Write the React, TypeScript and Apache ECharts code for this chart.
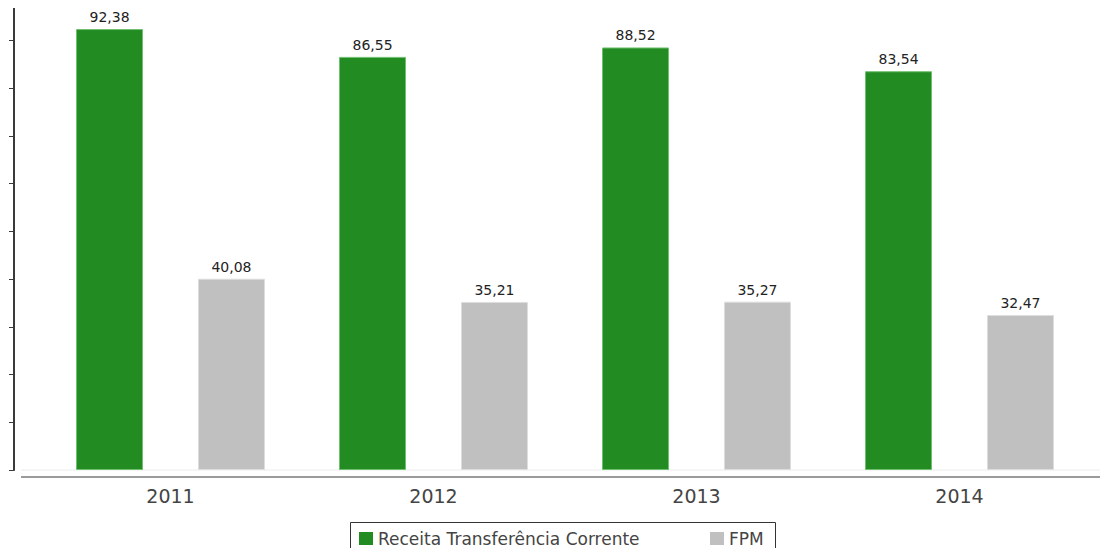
import React, { useEffect, useRef } from "react";
import * as echarts from "echarts";

const categories = ["2011", "2012", "2013", "2014"];
const receitaValues = [92.38, 86.55, 88.52, 83.54];
const fpmValues = [40.08, 35.21, 35.27, 32.47];
const seriesNames = ["Receita Transferência Corrente", "FPM"];

const FONT = "DejaVu Sans";

export default function App() {
  const ref = useRef<HTMLDivElement>(null);
  useEffect(() => {
    if (!ref.current) return;
    const chart = echarts.init(ref.current, undefined, { renderer: "svg" });
    const fmt = (p: any) => Number(p.value).toFixed(2).replace(".", ",");
    const legendCommon = {
      top: 522,
      icon: "rect",
      itemWidth: 14,
      itemHeight: 13,
      padding: [8, 0, 10, 0],
      itemStyle: { borderWidth: 0 },
      textStyle: { fontSize: 17, color: "#444", fontFamily: FONT },
    };
    chart.setOption({
      animation: false,
      backgroundColor: "#ffffff",
      grid: { left: 39, right: 17, top: 7, bottom: 86 },
      xAxis: {
        type: "category",
        data: categories,
        axisLine: { show: false },
        axisTick: { show: false },
        axisLabel: { margin: 16, fontSize: 19, color: "#444", fontFamily: FONT },
      },
      yAxis: {
        type: "value",
        min: 0,
        max: 97,
        interval: 10,
        offset: 25,
        axisLine: { show: true, lineStyle: { color: "#3a3a3a", width: 2 } },
        axisTick: { show: true, length: 5, lineStyle: { color: "#3a3a3a", width: 1 } },
        axisLabel: { show: false },
        splitLine: { show: false },
      },
      legend: [
        { ...legendCommon, left: 359, data: [seriesNames[0]] },
        { ...legendCommon, left: 710, data: [seriesNames[1]] },
      ],
      graphic: [
        { type: "line", shape: { x1: 21, y1: 470, x2: 1108, y2: 470 }, style: { stroke: "#ececec", lineWidth: 1 }, z: 1 },
        { type: "line", shape: { x1: 21, y1: 477, x2: 1108, y2: 477 }, style: { stroke: "#9a9a9a", lineWidth: 2 }, z: 1 },
        { type: "rect", shape: { x: 350.5, y: 522.5, width: 425, height: 40 }, style: { fill: "none", stroke: "#333", lineWidth: 1 }, z: 1 },
      ],
      series: [
        {
          name: seriesNames[0],
          type: "bar",
          data: receitaValues,
          barWidth: 67,
          barGap: "82%",
          itemStyle: { color: "#228B22", borderColor: "#6fbf6f", borderWidth: 1 },
          label: { show: true, position: "top", distance: 5, formatter: fmt, fontSize: 14, color: "#222", fontFamily: FONT },
        },
        {
          name: seriesNames[1],
          type: "bar",
          data: fpmValues,
          barWidth: 67,
          barGap: "82%",
          itemStyle: { color: "#C0C0C0", borderColor: "#dedede", borderWidth: 1 },
          label: { show: true, position: "top", distance: 5, formatter: fmt, fontSize: 14, color: "#222", fontFamily: FONT },
        },
      ],
    });
    return () => chart.dispose();
  }, []);
  return <div ref={ref} style={{ width: 1108, height: 556, margin: -8 }} />;
}
